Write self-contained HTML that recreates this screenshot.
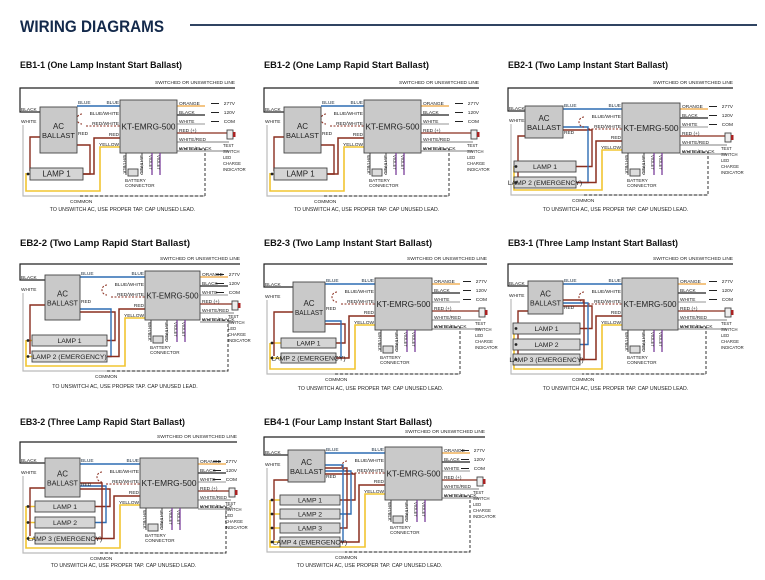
<!DOCTYPE html>
<html><head><meta charset="utf-8">
<style>
html,body{margin:0;padding:0;background:#fff;width:765px;height:580px;overflow:hidden}
svg{display:block;font-family:"Liberation Sans",sans-serif}
</style></head>
<body>
<svg id="s" width="765" height="580" viewBox="0 0 765 580" xmlns="http://www.w3.org/2000/svg">
<text x="20" y="32" font-size="17" font-weight="bold" fill="#13294b" textLength="144" lengthAdjust="spacingAndGlyphs">WIRING DIAGRAMS</text>
<line x1="190" y1="25" x2="757" y2="25" stroke="#13294b" stroke-width="1.8"/>
</svg>
<script>
var S=document.getElementById('s');var out='';
function t(x,y,s,fs,o){o=o||{};out+='<text x="'+x+'" y="'+y+'" font-size="'+fs+'"'+(o.a?' text-anchor="'+o.a+'"':'')+(o.b?' font-weight="bold"':'')+(o.tl?' textLength="'+o.tl+'" lengthAdjust="spacingAndGlyphs"':'')+(o.r?' transform="rotate('+o.r+' '+x+' '+y+')"':'')+' fill="'+(o.c||'#222')+'">'+s+'</text>';}
function p(d,c,w,da){out+='<path d="'+d+'" fill="none" stroke="'+c+'" stroke-width="'+(w||1)+'"'+(da?' stroke-dasharray="'+da+'"':'')+'/>';}
function r(x,y,w,h,f){out+='<rect x="'+x+'" y="'+y+'" width="'+w+'" height="'+h+'" fill="'+f+'" stroke="#444" stroke-width="0.9"/>';}
var BL='#2d6db4',RD='#8a2e1f',YL='#f2c531',OR='#eea23a',VI='#7b3e9b',GR='#bbb';
function D(d){
var L=d.L,R=d.R,a=d.ac,k=d.kt,ly=d.ly,cy=d.cy,kr=k.x+k.w;
t(L,d.ty,d.title,9.5,{b:1,tl:d.tl,c:'#111'});
t(R,ly-4,'SWITCHED OR UNSWITCHED LINE',4.8,{a:'end'});
p('M'+R+','+ly+'H'+L+'V'+(a.y+5)+'H'+a.x,'#222',1.2);
t(L+1,a.y+4,'BLACK',4.8);t(L+1,a.y+16,'WHITE',4.8);
p('M'+(L+3)+','+(a.y+18)+'V'+cy+'H'+(kr+28),GR,1.2);
p('M'+(kr+2)+','+(k.y+49)+'H'+(kr+28)+'V'+cy+'H'+(k.x-40),'#333',1,'3,2');
t(k.x-50,cy+7,'COMMON',4.8);
t((L+R)/2-5,d.ny,'TO UNSWITCH AC, USE PROPER TAP. CAP UNUSED LEAD.',5.2,{a:'middle'});
d.lamps.forEach(function(m,i){
 var yy=m.y+m.h/2;
 p('M'+(L+8)+','+yy+'H'+m.x,YL,1.5);
 p('M'+(m.x+m.w)+','+yy+'H'+(k.x-30-i*4)+'V'+(a.y+a.h-8-i*3)+'H'+(a.x+a.w),i%2?BL:RD,1.4);
});
var last=d.lamps[d.lamps.length-1];
p('M'+a.x+','+(a.y+30)+'H'+(L+10)+'V'+(last.y+3),RD,1.4);
p('M'+k.x+','+(k.y+47)+'H'+(k.x-20)+'V'+(cy-5)+'H'+(L+6)+'V'+(d.lamps[0].y+5),YL,1.6);
p('M'+k.x+','+(k.y+38)+'H'+(k.x-26)+'V'+(last.y+last.h/2)+'H'+(last.x+last.w),RD,1.5);
p('M'+(a.x+a.w)+','+(k.y+6)+'H'+k.x,BL,1.5);
p('M'+(k.x-38)+','+(k.y+14)+'a5,5 0 0 0 0,10',RD,1,'2,1.5');
p('M'+(k.x-34)+','+(k.y+26)+'H'+k.x,RD,1,'2,1.5');
t(a.x+a.w+1,k.y+4,'BLUE',4.8,{c:'#234'});t(k.x-1,k.y+4,'BLUE',4.8,{a:'end',c:'#234'});
t(k.x-1,k.y+15,'BLUE/WHITE',4.8,{a:'end'});t(k.x-1,k.y+25,'RED/WHITE',4.8,{a:'end'});
t(k.x-1,k.y+36,'RED',4.8,{a:'end'});t(k.x-1,k.y+46,'YELLOW',4.8,{a:'end'});
t(a.x+a.w+1,a.y+28,'RED',4.8);
r(a.x,a.y,a.w,a.h,'#c9c9c9');
t(a.x+a.w/2,a.y+a.h/2-1,'AC',8,{a:'middle'});t(a.x+a.w/2,a.y+a.h/2+8,'BALLAST',7.5,{a:'middle',tl:a.w-4});
var rl=[['ORANGE',OR,'277V'],['BLACK','#222','120V'],['WHITE','#aaa','COM'],['RED (+)',RD,''],['WHITE/RED','#999',''],['WHITE/BLACK','#999','']];
rl.forEach(function(q,i){var y=k.y+5+i*9;
 p('M'+kr+','+(y+1)+'H'+(q[2]?kr+28:R-6),q[1],1.2);
 t(kr+2,y,q[0],4.8);
 if(q[2]){p('M'+(R-24)+','+(y-1.5)+'h8','#222',1);t(R,y,q[2],4.8,{a:'end'});}
});
r(R-8,k.y+30,6,9,'#eee');out+='<rect x="'+(R-2)+'" y="'+(k.y+32)+'" width="2.5" height="5" fill="#a22"/>';
['TEST','SWITCH','LED','CHARGE','INDICATOR'].forEach(function(s,i){t(R-12,k.y+47+i*6,s,4.2);});
r(k.x,k.y,k.w,k.h,'#c9c9c9');
t(k.x+k.w/2,k.y+k.h/2+3,'KT-EMRG-500',8.5,{a:'middle',tl:k.w-3});
var by=k.y+k.h;
p('M'+(k.x+6)+','+by+'v22','#333',0.9);t(k.x+3,by+2,'WHT/BLK',4.2,{r:90});
p('M'+(k.x+22)+','+by+'v22','#333',0.9,'2,1.5');t(k.x+20,by+2,'WHT/RED',4.2,{r:90});
p('M'+(k.x+32)+','+by+'v22',VI,1.3);t(k.x+29,by+2,'VIOLET',4.2,{r:90});
p('M'+(k.x+40)+','+by+'v22',VI,1.3);t(k.x+37,by+2,'VIOLET',4.2,{r:90});
r(k.x+8,by+16,10,7,'#ddd');
t(k.x+5,by+29,'BATTERY',4.6);t(k.x+5,by+34,'CONNECTOR',4.6);
d.lamps.forEach(function(m){r(m.x,m.y,m.w,m.h,'#d5d5d5');t(m.x+m.w/2,m.y+m.h/2+2.5,m.t,m.fs||6.8,{a:'middle'});
 out+='<circle cx="'+(L+8)+'" cy="'+(m.y+m.h/2)+'" r="1.4" fill="#222"/>';});
}
function lam(x,w,ys,h,last){return ys.map(function(y,i){return{x:x,y:y,w:w,h:h,t:(i==ys.length-1&&last)?'LAMP '+(i+1)+' (EMERGENCY)':'LAMP '+(i+1)};});}
D({L:20,R:235,ty:68,title:'EB1-1 (One Lamp Instant Start Ballast)',tl:162,ly:88,ac:{x:40,y:107,w:37,h:46},kt:{x:120,y:100,w:57,h:53},lamps:[{x:30,y:168,w:53,h:12,t:'LAMP 1',fs:8}],cy:196,ny:211});
D({L:264,R:479,ty:68,title:'EB1-2 (One Lamp Rapid Start Ballast)',tl:165,ly:88,ac:{x:284,y:107,w:37,h:46},kt:{x:364,y:100,w:57,h:53},lamps:[{x:274,y:168,w:53,h:12,t:'LAMP 1',fs:8}],cy:196,ny:211});
D({L:508,R:733,ty:68,title:'EB2-1 (Two Lamp Instant Start Ballast)',tl:160,ly:88,ac:{x:525,y:106,w:38,h:32},kt:{x:622,y:103,w:58,h:50},lamps:lam(514,62,[161,177],11,1),cy:195,ny:211});
D({L:20,R:240,ty:246,title:'EB2-2 (Two Lamp Rapid Start Ballast)',tl:170,ly:264,ac:{x:45,y:275,w:35,h:45},kt:{x:145,y:271,w:55,h:49},lamps:lam(32,75,[335,351],11,1),cy:371,ny:388});
D({L:264,R:487,ty:246,title:'EB2-3 (Two Lamp Instant Start Ballast)',tl:168,ly:264,ac:{x:293,y:282,w:32,h:50},kt:{x:375,y:278,w:57,h:52},lamps:lam(281,55,[338,353],10,1),cy:374,ny:390});
D({L:508,R:733,ty:246,title:'EB3-1 (Three Lamp Instant Start Ballast)',tl:170,ly:264,ac:{x:528,y:281,w:35,h:33},kt:{x:622,y:278,w:56,h:52},lamps:lam(513,67,[323,339,354],11,1),cy:374,ny:390});
D({L:20,R:237,ty:425,title:'EB3-2 (Three Lamp Rapid Start Ballast)',tl:165,ly:442,ac:{x:45,y:458,w:35,h:39},kt:{x:140,y:458,w:58,h:50},lamps:lam(35,60,[501,517,533],11,1),cy:553,ny:567});
D({L:264,R:485,ty:425,title:'EB4-1 (Four Lamp Instant Start Ballast)',tl:168,ly:437,ac:{x:288,y:450,w:37,h:32},kt:{x:385,y:447,w:57,h:53},lamps:lam(280,60,[495,509,523,537],10,1),cy:552,ny:567});
S.insertAdjacentHTML('beforeend',out);
</script>
</body></html>
